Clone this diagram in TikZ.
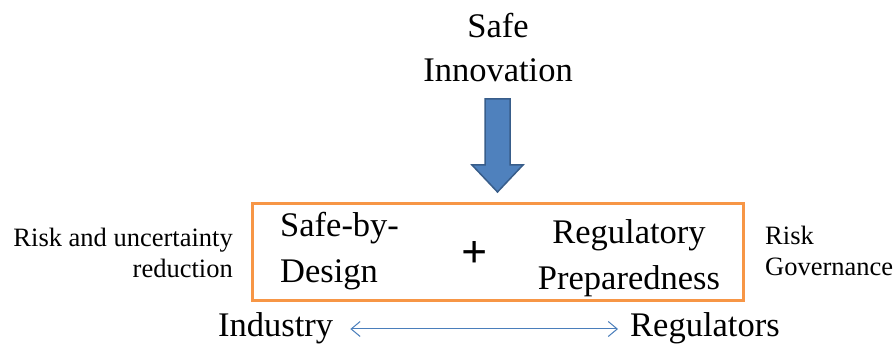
\documentclass[tikz,border=0pt]{standalone}
\usepackage{fontspec}
\setmainfont{Liberation Serif}
\newfontfamily\tnr{Liberation Serif}
\usetikzlibrary{arrows.meta}
\definecolor{boxorange}{HTML}{F79646}
\definecolor{arrowblue}{HTML}{4F81BD}
\definecolor{arrowedge}{HTML}{385D8A}
\definecolor{lineblue}{HTML}{4A7EBB}
\begin{document}
\begin{tikzpicture}[x=1pt,y=1pt,
  big/.style={font=\tnr\fontsize{34.5}{44}\selectfont, inner sep=0pt},
  inbox/.style={font=\tnr\fontsize{34.5}{46}\selectfont, inner sep=0pt},
  side/.style={font=\tnr\fontsize{26.5}{31}\selectfont, inner sep=0pt},
  frame/.style={draw=boxorange, line width=3pt, inner sep=0pt},
  bigarrow/.style={fill=arrowblue, draw=arrowedge, line width=1.5pt, line join=miter},
  twoway/.style={draw=lineblue, line width=1pt, {Straight Barb[length=9pt,width=15pt]}-{Straight Barb[length=9pt,width=15pt]}}
]
\useasboundingbox (0,0) rectangle (894,344);
% title
\node[big, align=center, anchor=base] (safe) at (498,262) {Safe\\Innovation};
% block arrow
\draw[bigarrow] (485,245) -- (510,245) -- (510,179) -- (523,179) -- (497.5,152) -- (472,179) -- (485,179) -- cycle;
% frame
\node[frame, minimum width=491pt, minimum height=97pt] (box) at (497.5,91.5) {};
\node[inbox, align=left, anchor=base west] (sbd) at (280,61) {Safe-by-\\Design};
\node[inbox, align=center, anchor=base] (rp) at (629,54) {Regulatory\\Preparedness};
\node[font=\tnr\fontsize{46}{46}\selectfont\bfseries, inner sep=0pt] (plus) at (475,89) {+};
% side labels
\node[side, align=right, anchor=base east] (risk) at (233,66) {Risk and uncertainty\\reduction};
\node[side, align=left, anchor=base west] (gov) at (765,68) {Risk\\Governance};
% bottom
\node[big, anchor=base west] (ind) at (218,7.5) {Industry};
\node[big, anchor=base west] (reg) at (630,7.5) {Regulators};
\draw[twoway] ([xshift=17pt,yshift=7.5pt]ind.base east) -- ([xshift=-12pt,yshift=7.5pt]reg.base west);
\end{tikzpicture}
\end{document}
